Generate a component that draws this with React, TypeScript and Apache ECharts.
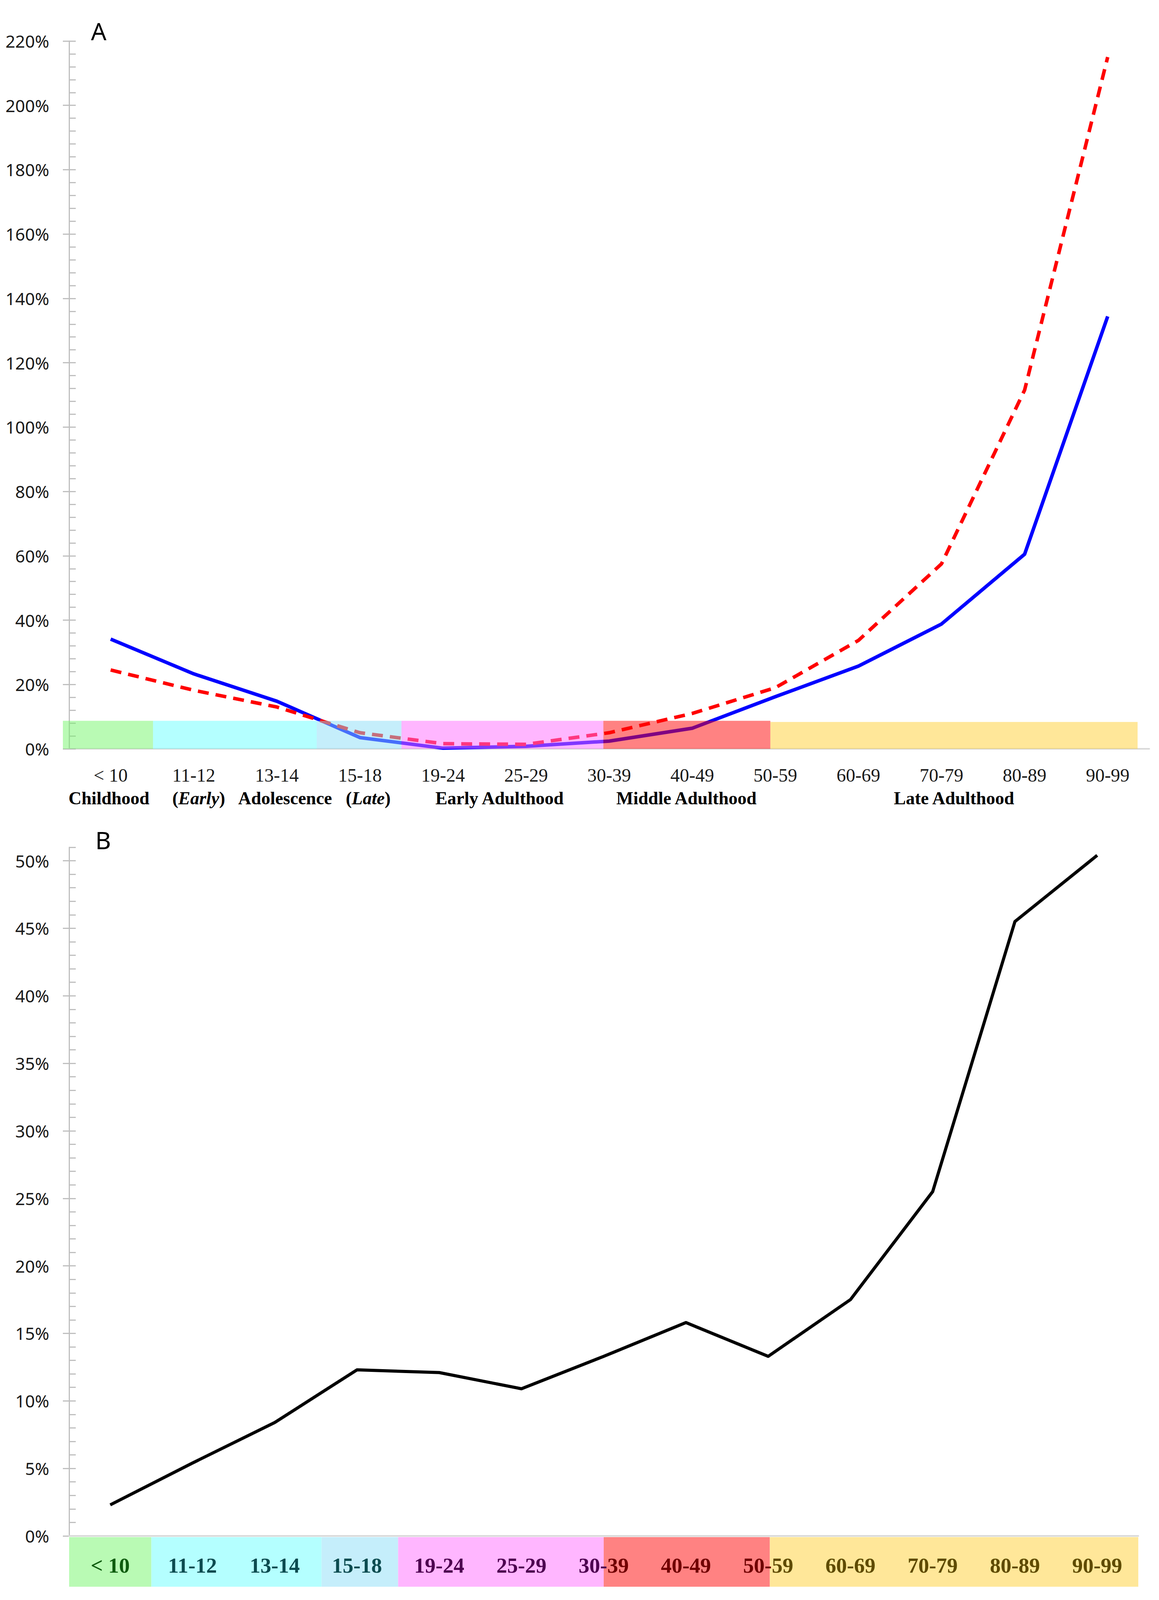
import React, { useEffect, useRef } from 'react';
import * as echarts from 'echarts';

// ---------- data ----------
const categories = ['< 10', '11-12', '13-14', '15-18', '19-24', '25-29', '30-39', '40-49', '50-59', '60-69', '70-79', '80-89', '90-99'];
const seriesABlue = [34.1, 23.3, 14.8, 3.5, 0.2, 0.8, 2.4, 6.4, 16.2, 25.7, 38.8, 60.5, 134.4];
const seriesARed = [24.5, 18.2, 13.0, 5.0, 1.6, 1.4, 5.0, 11.0, 19.0, 33.7, 57.5, 111.5, 215.0];
const seriesB = [2.3, 5.4, 8.4, 12.3, 12.1, 10.9, 13.3, 15.8, 13.3, 17.5, 25.5, 45.5, 50.4];

const yMaxA = 220;
const yLabelStepA = 20;
const yMinorA = 4;
const yMaxB = 51;
const yLabelStepB = 5;
const yMinorB = 1;
const yMajorTicksB = [0, 5, 10, 15, 20, 25, 30, 35, 40, 45, 50];

const bandColors = ['#b9fab4', '#b4ffff', '#c5eefb', '#ffb6ff', '#ff8282', '#ffe799'];
const bandTextColors = ['#0e5c0e', '#0c4b50', '#0c4b50', '#4d0050', '#700000', '#5f4b00'];
const bandStartA = [-0.075, 1.01, 2.98, 4.0, 6.43, 8.44];
const bandEndA = [1.01, 2.98, 4.0, 6.43, 8.44, 12.86];
const bandTopA = [8.7, 8.7, 8.7, 8.7, 8.7, 8.35];
const bandStartB = [0, 1, 3.07, 4.0, 6.5, 8.52];
const bandEndB = [1, 3.07, 4.0, 6.5, 8.52, 13];

const groupNamesA = ['Childhood', '(Early)', 'Adolescence', '(Late)', 'Early Adulthood', 'Middle Adulthood', 'Late Adulthood'];
const groupItalicA = ['', 'Early', '', 'Late', '', '', ''];
const groupPosA = [0.48, 1.56, 2.6, 3.6, 5.18, 7.43, 10.65];

// ---------- style helpers ----------
const W = 2968;
const REF_H = 4224;
const SERIF = '"Liberation Serif", "DejaVu Serif", serif';
const SANS = '"Noto Sans", "DejaVu Sans", sans-serif';
const AXIS_GRAY = '#bfbfbf';
const XAXIS_GRAY = '#d9d9d9';

function overlayColor(hex: string): string {
  const n = parseInt(hex.slice(1), 16);
  const r = (n >> 16) & 255, g = (n >> 8) & 255, b = n & 255;
  const f = (c: number) => Math.max(0, Math.min(255, 2 * c - 255));
  return `rgb(${f(r)},${f(g)},${f(b)})`;
}

function bandIndexAt(starts: number[], ends: number[], x: number): number {
  for (let i = 0; i < starts.length; i++) if (x >= starts[i] && x < ends[i]) return i;
  return starts.length - 1;
}

function labelB(value: string, idx: number): string {
  const c = idx + 0.5;
  const l = bandIndexAt(bandStartB, bandEndB, c - 0.15);
  const r = bandIndexAt(bandStartB, bandEndB, c + 0.15);
  if (l === r) return `{b${l}|${value}}`;
  const k = value.indexOf('-');
  return `{b${l}|${value.slice(0, k + 1)}}{b${r}|${value.slice(k + 1)}}`;
}

function buildOption(H: number): any {
  const sy = H / REF_H;
  const Y = (v: number) => Math.round(v * sy);
  const gridA = { left: 177, top: Y(108), width: 2766, height: Y(1977) - Y(108) };
  const gridB = { left: 177, top: Y(2237), width: 2738, height: Y(4055) - Y(2237) };

  const richB: Record<string, any> = {};
  bandTextColors.forEach((c, i) => {
    richB['b' + i] = { color: c, fontSize: 55, fontWeight: 'bold', fontFamily: SERIF };
  });

  return {
    animation: false,
    backgroundColor: '#ffffff',
    grid: [
      { ...gridA, containLabel: false, outerBoundsMode: 'none' },
      { ...gridB, containLabel: false, outerBoundsMode: 'none' },
    ],
    xAxis: [
      {
        type: 'category', gridIndex: 0, data: categories, boundaryGap: true,
        axisLine: { show: true, lineStyle: { color: XAXIS_GRAY, width: 4 } },
        axisTick: { show: false },
        splitLine: { show: false },
        axisLabel: { interval: 0, hideOverlap: false, margin: Y(44), fontSize: 48, fontFamily: SERIF, color: '#1a1a1a' },
      },
      { type: 'value', gridIndex: 0, min: 0, max: 13, show: false },
      {
        type: 'category', gridIndex: 1, data: categories, boundaryGap: true, z: 5,
        axisLine: { show: true, lineStyle: { color: XAXIS_GRAY, width: 4 } },
        axisTick: { show: false },
        splitLine: { show: false },
        axisLabel: {
          interval: 0, hideOverlap: false,
          margin: Y(50), fontSize: 55, fontWeight: 'bold', fontFamily: SERIF,
          formatter: (v: string, i: number) => labelB(v, i),
          rich: richB,
        },
      },
      { type: 'value', gridIndex: 1, min: 0, max: 13, show: false },
    ],
    yAxis: [
      {
        type: 'value', gridIndex: 0, min: 0, max: yMaxA, interval: yMinorA, position: 'left',
        axisLine: { show: true, lineStyle: { color: AXIS_GRAY, width: 3 } },
        axisTick: { show: true, inside: true, length: 17, lineStyle: { color: AXIS_GRAY, width: 3 } },
        splitLine: { show: false },
        axisLabel: {
          margin: 51, fontSize: 44, fontFamily: SANS, color: '#1a1a1a',
          formatter: (v: number) => (Math.round(v) % yLabelStepA === 0 ? `${Math.round(v)}%` : ''),
        },
      },
      {
        type: 'value', gridIndex: 0, min: 0, max: yMaxA, interval: yLabelStepA, position: 'left', offset: 0,
        axisLine: { show: false },
        axisTick: { show: true, inside: false, length: 16, lineStyle: { color: AXIS_GRAY, width: 3 } },
        splitLine: { show: false },
        axisLabel: { show: false },
      },
      {
        type: 'value', gridIndex: 1, min: 0, max: yMaxB, interval: yMinorB, position: 'left',
        axisLine: { show: true, lineStyle: { color: AXIS_GRAY, width: 3 } },
        axisTick: { show: true, inside: true, length: 17, lineStyle: { color: AXIS_GRAY, width: 3 } },
        splitLine: { show: false },
        axisLabel: {
          margin: 51, fontSize: 44, fontFamily: SANS, color: '#1a1a1a',
          formatter: (v: number) => (Math.round(v) % yLabelStepB === 0 ? `${Math.round(v)}%` : ''),
        },
      },
      {
        type: 'value', gridIndex: 1, min: 0, max: yMaxB, interval: yLabelStepB, position: 'left', offset: 0,
        axisLine: { show: false },
        axisTick: { show: true, inside: false, length: 16, customValues: yMajorTicksB, lineStyle: { color: AXIS_GRAY, width: 3 } },
        splitLine: { show: false },
        axisLabel: { show: false },
      },
    ],
    graphic: [
      { type: 'text', left: 233, top: Y(50), style: { text: 'A', fontSize: 62, fontFamily: SANS, fill: '#000' } },
      { type: 'text', left: 244, top: Y(2185), style: { text: 'B', fontSize: 62, fontFamily: SANS, fill: '#000' } },
    ],
    series: [
      {
        type: 'line', name: 'blue', xAxisIndex: 0, yAxisIndex: 0, data: seriesABlue, z: 2,
        symbol: 'none', smooth: false,
        lineStyle: { color: '#0000ff', width: 9, join: 'round' },
      },
      {
        type: 'line', name: 'red', xAxisIndex: 0, yAxisIndex: 0, data: seriesARed, z: 2,
        symbol: 'none', smooth: false,
        lineStyle: { color: '#ff0000', width: 9, type: [28, 18], cap: 'butt', join: 'round' },
      },
      {
        type: 'custom', name: 'bandsA', xAxisIndex: 1, yAxisIndex: 0, z: 3, clip: false, silent: true,
        data: bandStartA.map((s, i) => [s, bandEndA[i], bandTopA[i]]),
        encode: { x: [0, 1], y: 2 },
        renderItem: (params: any, api: any) => {
          const i = params.dataIndex;
          const p0 = api.coord([api.value(0), api.value(2)]);
          const p1 = api.coord([api.value(1), 0]);
          return {
            type: 'rect',
            shape: { x: p0[0], y: p0[1], width: p1[0] - p0[0], height: p1[1] - p0[1] },
            style: { fill: overlayColor(bandColors[i]), opacity: 0.5 },
          };
        },
      },
      {
        type: 'custom', name: 'groupsA', xAxisIndex: 1, yAxisIndex: 0, z: 4, clip: false, silent: true,
        data: groupPosA.map((p) => [p, 0]),
        encode: { x: 0, y: 1 },
        renderItem: (params: any, api: any) => {
          const i = params.dataIndex;
          const pt = api.coord([api.value(0), 0]);
          const it = groupItalicA[i];
          const text = it ? groupNamesA[i].replace(it, `{i|${it}}`) : groupNamesA[i];
          return {
            type: 'text',
            x: pt[0], y: pt[1] + Y(130),
            style: {
              text, fill: '#000', fontSize: 46, fontWeight: 'bold', fontFamily: SERIF,
              align: 'center', verticalAlign: 'middle',
              rich: { i: { fontStyle: 'italic', fontWeight: 'bold', fontSize: 46, fontFamily: SERIF, fill: '#000' } },
            },
          };
        },
      },
      {
        type: 'line', name: 'black', xAxisIndex: 2, yAxisIndex: 2, data: seriesB, z: 2,
        symbol: 'none', smooth: false,
        lineStyle: { color: '#000000', width: 8, join: 'round' },
      },
      {
        type: 'custom', name: 'bandsB', xAxisIndex: 3, yAxisIndex: 2, z: 1, clip: false, silent: true,
        data: bandStartB.map((s, i) => [s, bandEndB[i]]),
        encode: { x: [0, 1] },
        renderItem: (params: any, api: any) => {
          const i = params.dataIndex;
          const p0 = api.coord([api.value(0), 0]);
          const p1 = api.coord([api.value(1), 0]);
          return {
            type: 'rect',
            shape: { x: p0[0], y: p0[1] + 3, width: p1[0] - p0[0], height: Y(131) },
            style: { fill: bandColors[i] },
          };
        },
      },
    ],
  };
}

export default function App() {
  const ref = useRef<HTMLDivElement>(null);
  const H = Math.min(REF_H, typeof window !== 'undefined' && window.innerHeight > 0 ? window.innerHeight : REF_H);
  useEffect(() => {
    document.body.style.margin = '0';
    document.body.style.overflow = 'hidden';
    const chart = echarts.init(ref.current as HTMLDivElement, undefined, { renderer: 'svg', width: W, height: H });
    chart.setOption(buildOption(H));
    return () => chart.dispose();
  }, []);
  return (
    <div
      ref={ref}
      style={{ position: 'absolute', left: 0, top: 0, width: W, height: H, background: '#ffffff' }}
    />
  );
}
